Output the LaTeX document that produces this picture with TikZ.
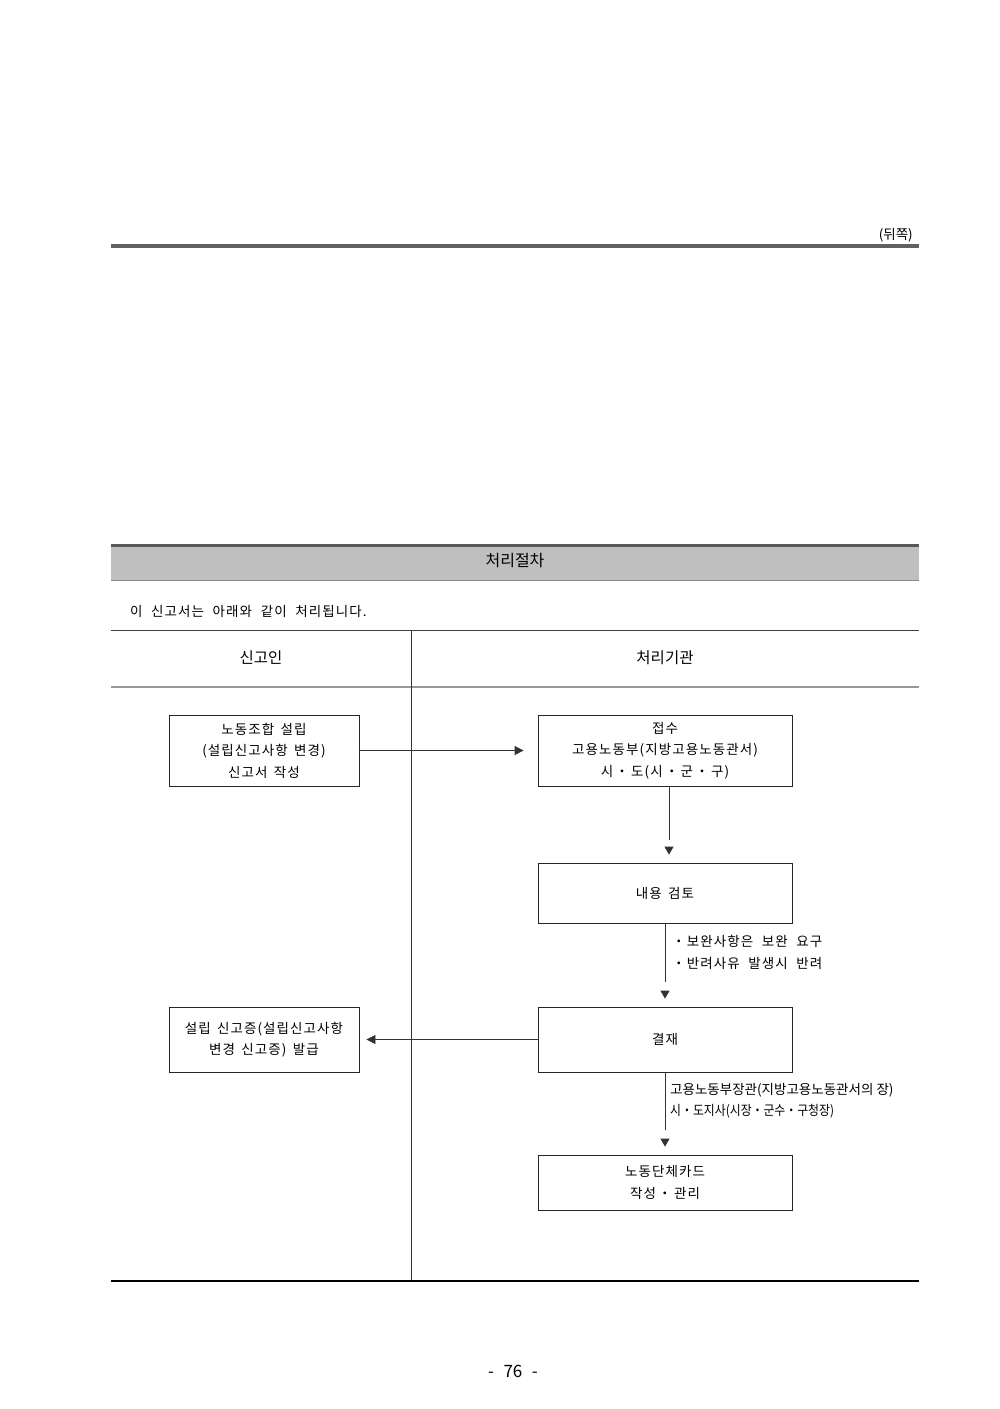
\documentclass[tikz,border=0pt]{standalone}
\usepackage{fontspec}
\setmainfont{Noto Sans CJK KR}
\newfontfamily\boxfont[LetterSpace=8]{Noto Sans CJK KR}
\newfontfamily\cjkc[FakeStretch=0.88]{Noto Sans CJK KR}
\usetikzlibrary{arrows.meta,calc}
\begin{document}
\begin{tikzpicture}[x=1pt,y=-1pt,
  box/.style={draw=black!85, line width=0.8pt, align=center, inner sep=0pt,
    font=\boxfont\fontsize{13.5}{21.5}\selectfont},
  wbox/.style={box, minimum width=254pt},
  lbox/.style={box, minimum width=190pt},
  conn/.style={draw=black!80, line width=0.8pt},
  tipd/.style={conn, -{Triangle[width=9pt,length=8pt]}},
  tiph/.style={conn, -{Triangle[width=9pt,length=9pt]}},
  lbl/.style={anchor=west, inner sep=0pt, font=\boxfont\fontsize{13.5}{21.5}\selectfont},
  clbl/.style={anchor=west, inner sep=0pt, font=\fontsize{13.5}{21}\selectfont},
  txt/.style={inner sep=0pt}]
\useasboundingbox (0,0) rectangle (1000,1409);
\fill[white] (0,0) rectangle (1000,1409);

% top rule
\node[txt, anchor=east, font=\fontsize{13.5}{15}\selectfont] (back) at (913,235) {(뒤쪽)};
\draw[line width=4pt, black!62] (111,246) -- (919,246);

% header band
\fill[black!25] (111,545) rectangle (919,580);
\draw[line width=3pt, black!65] (111,545) -- (919,545);
\draw[line width=1pt, black!45] (111,580) -- (919,580);
\node[txt, font=\fontsize{16}{18}\selectfont] (title) at (515,561) {처리절차};

\node[txt, anchor=west, font=\boxfont\fontsize{13.5}{15}\selectfont] (intro) at (130,611) {이\,\, 신고서는\,\, 아래와\,\, 같이\,\, 처리됩니다.};

% table frame
\draw[line width=0.8pt, black!75] (111,630) -- (919,630);
\draw[line width=2pt, black!40] (111,687) -- (919,687);
\draw[line width=0.8pt, black!80] (411,630) -- (411,1281);
\draw[line width=1.2pt, black] (111,1281) -- (919,1281);
\node[txt, font=\fontsize{15.5}{17}\selectfont] (h1) at (261,658) {신고인};
\node[txt, font=\fontsize{15.5}{17}\selectfont] (h2) at (665,658) {처리기관};

% boxes
\node[lbox, minimum height=71pt] (A) at (264,750.5) {노동조합\, 설립\\(설립신고사항\, 변경)\\신고서\, 작성};
\node[wbox, minimum height=71pt] (B) at (665,750.5) {접수\\고용노동부(지방고용노동관서)\\시\,・\,도(시\,・\,군\,・\,구)};
\node[wbox, minimum height=60pt] (C) at (665,893) {내용\, 검토};
\node[wbox, minimum height=65pt] (D) at (665,1039.5) {결재};
\node[lbox, minimum height=65pt] (E) at (264,1039.5) {설립\, 신고증(설립신고사항\\변경\, 신고증)\, 발급};
\node[wbox, minimum height=55pt] (F) at (665,1182.5) {노동단체카드\\작성\,・\,관리};

% connectors
\draw[tiph, shorten >=14pt] (A.east) -- (B.west);
\draw[conn] ($(B.south)+(4,0)$) -- ($(C.north)+(4,-23)$);
\draw[tipd] ($(C.north)+(4,-16)$) -- ($(C.north)+(4,-8)$);

\draw[conn] (C.south) -- ($(D.north)+(0,-25)$);
\draw[tipd] ($(D.north)+(0,-16)$) -- ($(D.north)+(0,-8)$);
\node[lbl] (c1) at (672,941) {・보완사항은\,\, 보완\,\, 요구};
\node[lbl] (c2) at (672,963) {・반려사유\,\, 발생시\,\, 반려};

\draw[tiph, shorten >=7pt] (D.west) -- (E.east);

\draw[conn] (D.south) -- ($(F.north)+(0,-25)$);
\draw[tipd] ($(F.north)+(0,-16)$) -- ($(F.north)+(0,-8)$);
\node[clbl] (d1) at (670,1090) {고용노동부장관(지방고용노동관서의 장)};
\node[clbl, font=\cjkc\fontsize{13.5}{21}\selectfont] (d2) at (670,1111) {시・도지사(시장・군수・구청장)};

% page number
\node[txt, font=\fontsize{17}{19}\selectfont] (pg) at (513,1371) {-\,\, 76\,\, -};
\end{tikzpicture}
\end{document}
